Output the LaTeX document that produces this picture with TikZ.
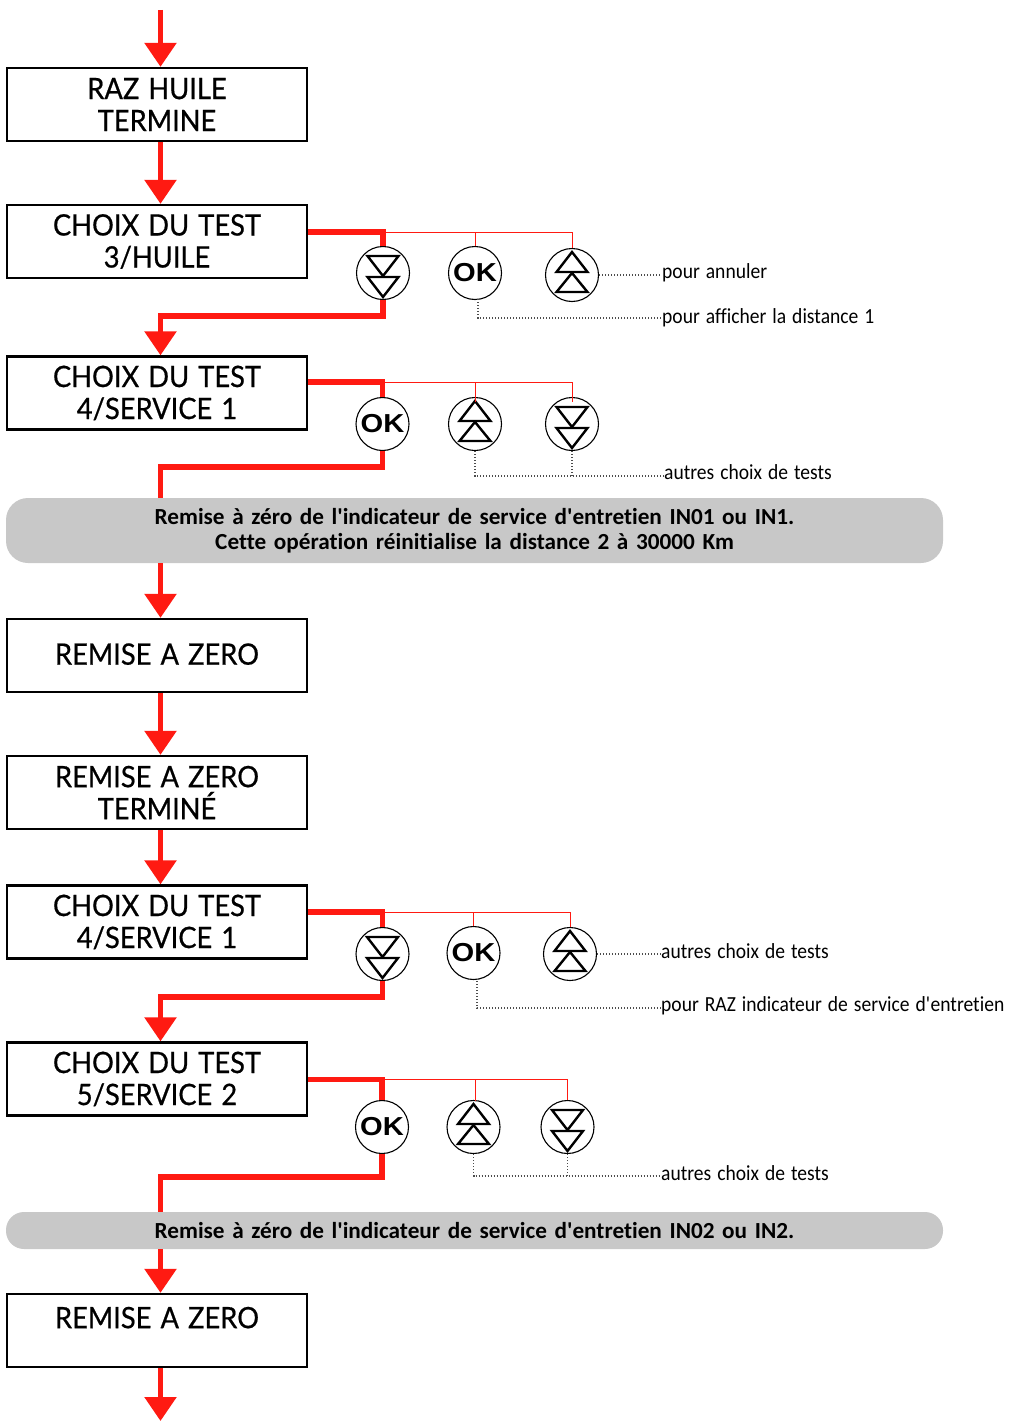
\documentclass[tikz,border=0pt]{standalone}
\usepackage{fontspec}
\setmainfont{Carlito}[Ligatures=NoCommon]
\newfontfamily\boxfont{Lato}[Ligatures=NoCommon,FakeBold=0.6,FakeStretch=0.925,WordSpace=1.3]
\newfontfamily\bandfont{Carlito}[Ligatures=NoCommon,WordSpace=1.45,FakeStretch=1.01]
\newfontfamily\labfont{Carlito}[Ligatures=NoCommon,FakeStretch=0.91,WordSpace=1.35]
\newfontfamily\okfont{Liberation Sans}[FakeStretch=1.12]
\usepackage{xcolor}
\usepackage{tikz}
\usetikzlibrary{calc,arrows.meta}
\definecolor{redline}{HTML}{FF1A12}
\definecolor{greyband}{HTML}{C8C8C8}
\tikzset{
  stepbox/.style={draw=black, line width=2.3pt, minimum width=300pt, minimum height=73pt,
    inner sep=0pt, align=center, font=\fontsize{29.5}{32}\boxfont},
  band/.style={fill=greyband, minimum width=937pt, inner sep=0pt, align=center,
    font=\fontsize{23}{25}\bandfont\bfseries},
  btn/.style={circle, draw=black, line width=1.1pt, fill=white, minimum size=53pt, inner sep=0pt},
  oktxt/.style={font=\fontsize{26}{26}\okfont\bfseries},
  tri/.style={draw=black, line width=2.4pt, line join=miter},
  flow/.style={draw=redline, line width=5.5pt, line join=miter},
  flowin/.style={flow, -{Triangle[length=24pt,width=31pt]}},
  rail/.style={draw=redline, line width=1pt},
  hint/.style={draw=black!70, line width=1.1pt, dash pattern=on 1.1pt off 1.9pt},
  lab/.style={anchor=west, inner sep=0pt, font=\fontsize{21.5}{24}\labfont}
}
\newcommand{\btndown}[1]{%
  \draw[tri] ($(#1)+(-15.5,-17)$)--($(#1)+(15.5,-17)$)--($(#1)+(0,3)$)--cycle;
  \draw[tri] ($(#1)+(-15.5,4)$)--($(#1)+(15.5,4)$)--($(#1)+(0,24)$)--cycle;}
\newcommand{\btnup}[1]{%
  \draw[tri] ($(#1)+(-15.5,-3)$)--($(#1)+(15.5,-3)$)--($(#1)+(0,-23)$)--cycle;
  \draw[tri] ($(#1)+(-15.5,17)$)--($(#1)+(15.5,17)$)--($(#1)+(0,-2)$)--cycle;}

\begin{document}
\begin{tikzpicture}[x=1pt,y=-1pt]
  \useasboundingbox (0,0) rectangle (1011,1421);
  \coordinate (trunk) at (160.5,0);
  \coordinate (start) at (160.5,10);
  \coordinate (finish) at (160.5,1421);

  % boxes
  \node[stepbox] (raz) at (157,104.5) {RAZ HUILE\\TERMINE};
  \node[stepbox] (huile) at (157,241.5) {CHOIX DU TEST\\3/HUILE};
  \node[stepbox] (servicea) at (157,393) {CHOIX DU TEST\\4/SERVICE 1};
  \node[stepbox] (zeroa) at (157,655.5) {\raisebox{3pt}{REMISE A ZERO}};
  \node[stepbox] (termine) at (157,792.5) {REMISE A ZERO\\TERMINÉ};
  \node[stepbox] (serviceb) at (157,922) {CHOIX DU TEST\\4/SERVICE 1};
  \node[stepbox] (servicec) at (157,1079) {CHOIX DU TEST\\5/SERVICE 2};
  \node[stepbox] (zerob) at (157,1330.5) {REMISE A ZERO\\[-6pt]\phantom{X}};

  % bands
  \node[band, rounded corners=22pt, minimum height=65pt] (banda) at (474.5,530.5)
    {Remise à zéro de l\textquotesingle indicateur de service d\textquotesingle entretien IN01 ou IN1.\\Cette opération réinitialise la distance 2 à 30000 Km};
  \node[band, rounded corners=18pt, minimum height=37pt] (bandb) at (474.5,1230.5)
    {Remise à zéro de l\textquotesingle indicateur de service d\textquotesingle entretien IN02 ou IN2.};

  % buttons
  \node[btn] (downa) at (383,273) {};
  \node[btn,oktxt] (oka) at (475,273) {OK};
  \node[btn] (upa) at (572,275) {};
  \node[btn,oktxt] (okb) at (382.5,424) {OK};
  \node[btn] (upb) at (475,424) {};
  \node[btn] (downb) at (572,424) {};
  \node[btn] (downc) at (382.5,954) {};
  \node[btn,oktxt] (okc) at (473.5,953) {OK};
  \node[btn] (upc) at (570,954) {};
  \node[btn,oktxt] (okd) at (382,1127) {OK};
  \node[btn] (upd) at (473.5,1127) {};
  \node[btn] (downd) at (567.5,1127) {};
  \btndown{downa} \btnup{upa} \btnup{upb} \btndown{downb}
  \btndown{downc} \btnup{upc} \btnup{upd} \btndown{downd}

  % labels
  \node[lab] (laba) at (662,273) {pour annuler};
  \node[lab] (labb) at (662,318) {pour afficher la distance 1};
  \node[lab] (labc) at (664,472) {autres choix de tests};
  \node[lab] (labd) at (661,951) {autres choix de tests};
  \node[lab] (labe) at (661,1006) {pour RAZ indicateur de service d\textquotesingle entretien};
  \node[lab] (labf) at (661,1173) {autres choix de tests};

  % main flow
  \draw[flowin] (start)--(raz.north -| trunk);
  \draw[flowin] (raz.south -| trunk)--(huile.north -| trunk);
  \draw[flowin] (downa.south)--(downa.south |- 0,316)--(trunk |- 0,316)--(servicea.north -| trunk);
  \draw[flow] (okb.south)--(okb.south |- 0,467)--(trunk |- 0,467)--(trunk |- banda.north);
  \draw[flowin] (trunk |- banda.south)--(zeroa.north -| trunk);
  \draw[flowin] (zeroa.south -| trunk)--(termine.north -| trunk);
  \draw[flowin] (termine.south -| trunk)--(serviceb.north -| trunk);
  \draw[flowin] (downc.south)--(downc.south |- 0,997)--(trunk |- 0,997)--(servicec.north -| trunk);
  \draw[flow] (okd.south)--(okd.south |- 0,1177)--(trunk |- 0,1177)--(trunk |- bandb.north);
  \draw[flowin] (trunk |- bandb.south)--(zerob.north -| trunk);
  \draw[flowin] (zerob.south -| trunk)--(finish);

  % button rails
  \draw[flow] (huile.east |- 0,232)--(downa.north |- 0,232)--(downa.north);
  \draw[rail] (downa.north |- 0,232)--(upa.north |- 0,232)--(upa.north);
  \draw[rail] (oka.north |- 0,232)--(oka.north);
  \draw[flow] (servicea.east |- 0,382)--(okb.north |- 0,382)--(okb.north);
  \draw[rail] (okb.north |- 0,382)--(downb.north |- 0,382)--($(downb)+(0,-22)$);
  \draw[rail] (upb.north |- 0,382)--($(upb)+(0,-22)$);
  \draw[flow] (serviceb.east |- 0,912)--(downc.north |- 0,912)--(downc.north);
  \draw[rail] (downc.north |- 0,912)--(upc.north |- 0,912)--(upc.north);
  \draw[rail] (okc.north |- 0,912)--(okc.north);
  \draw[flow] (servicec.east |- 0,1079.5)--(okd.north |- 0,1079.5)--(okd.north);
  \draw[rail] (okd.north |- 0,1079.5)--(downd.north |- 0,1079.5)--(downd.north);
  \draw[rail] (475,1079.5)--(475,1101);

  % dotted hints
  \draw[hint] (upa.east)--(laba.west |- upa.east);
  \draw[hint] (478,299)--(478,318)--(labb.west |- 0,318);
  \draw[hint] (upb.south)--(475,476)--(labc.west |- 0,476);
  \draw[hint] (downb.south)--(572,476);
  \draw[hint] (upc.east)--(labd.west |- upc.east);
  \draw[hint] (477,981)--(477,1008)--(labe.west |- 0,1008);
  \draw[hint] (upd.south)--(473.5,1176)--(labf.west |- 0,1176);
  \draw[hint] (downd.south)--(567.5,1176);
\end{tikzpicture}
\end{document}
